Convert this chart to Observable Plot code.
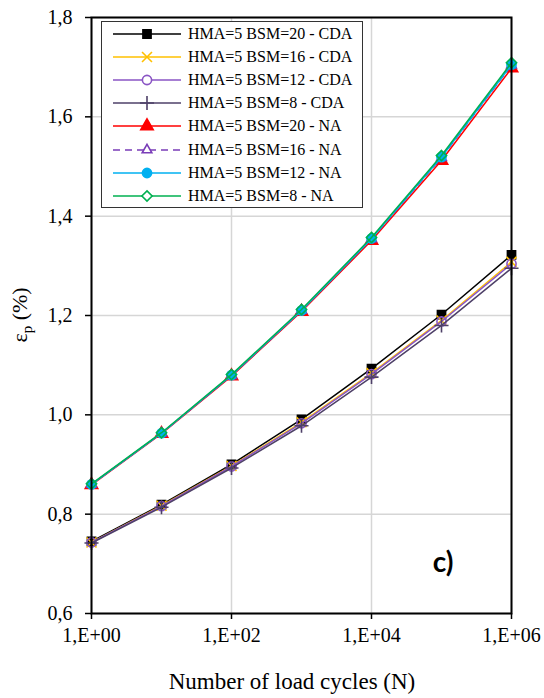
<!DOCTYPE html>
<html><head><meta charset="utf-8">
<script src="https://cdn.jsdelivr.net/npm/d3@7"></script>
<script src="https://cdn.jsdelivr.net/npm/@observablehq/plot@0.6"></script>
<style>
html,body{margin:0;padding:0;background:#fff;}
#wrap{position:relative;width:544px;height:698px;}
#legend{position:absolute;left:101px;top:21px;width:262px;height:187px;box-sizing:border-box;border:1px solid #333;background:#fff;font-family:"Liberation Serif",serif;font-size:16px;color:#000;}
.row{height:23.2px;display:flex;align-items:center;}
.row svg{display:block;flex:none;}
.row span{margin-left:6px;white-space:nowrap;}
</style></head><body>
<div id="wrap"><div id="chart"></div><div id="legend"></div></div>
<script>
// ---- data ----
const cycles = [1, 10, 100, 1000, 10000, 100000, 1000000];
const cdaBsm20 = [0.745, 0.819, 0.900, 0.991, 1.093, 1.202, 1.322];
const cdaBsm16 = [0.743, 0.817, 0.897, 0.985, 1.084, 1.190, 1.308];
const cdaBsm12 = [0.743, 0.816, 0.896, 0.983, 1.082, 1.188, 1.304];
const cdaBsm8  = [0.742, 0.814, 0.893, 0.978, 1.076, 1.180, 1.295];
const naBsm20  = [0.859, 0.962, 1.078, 1.208, 1.351, 1.512, 1.698];
const naBsm16  = [0.860, 0.963, 1.079, 1.210, 1.354, 1.518, 1.704];
const naBsm12  = [0.860, 0.963, 1.080, 1.210, 1.355, 1.519, 1.705];
const naBsm8   = [0.861, 0.964, 1.081, 1.212, 1.357, 1.522, 1.709];
const seriesLabels = [
  "HMA=5 BSM=20 - CDA", "HMA=5 BSM=16 - CDA", "HMA=5 BSM=12 - CDA", "HMA=5 BSM=8 - CDA",
  "HMA=5 BSM=20 - NA", "HMA=5 BSM=16 - NA", "HMA=5 BSM=12 - NA", "HMA=5 BSM=8 - NA"
];
const xTicks = [1, 100, 10000, 1000000];
const yTicks = [0.6, 0.8, 1.0, 1.2, 1.4, 1.6, 1.8];
const xLabel = "Number of load cycles (N)";
const panelLabel = "c)";

// ---- styles ----
const seriesValues = [cdaBsm20, cdaBsm16, cdaBsm12, cdaBsm8, naBsm20, naBsm16, naBsm12, naBsm8];
const styles = [
  {color: "#000000", symbol: "square", filled: true},
  {color: "#FFC000", symbol: "times", filled: false},
  {color: "#8A55C4", symbol: "circle", filled: false},
  {color: "#4E4068", symbol: "plus", filled: false},
  {color: "#FF0000", symbol: "triangle", filled: true},
  {color: "#7A3DB8", symbol: "triangle2", filled: false, dash: "7,5"},
  {color: "#00B0F0", symbol: "circle", filled: true},
  {color: "#00B050", symbol: "diamond2", filled: false}
];
const R = 4.6;

const rows = [];
seriesValues.forEach((vals, i) => vals.forEach((v, j) => rows.push({idx: i, series: seriesLabels[i], n: cycles[j], e: v})));

const marks = [
  Plot.gridY(yTicks, {stroke: "#d6d6d6", strokeOpacity: 1, strokeWidth: 1.5}),
  Plot.gridX(xTicks, {stroke: "#d6d6d6", strokeOpacity: 1, strokeWidth: 1.5})
];
styles.forEach((s, i) => {
  const d = rows.filter(r => r.idx === i);
  marks.push(Plot.line(d, {x: "n", y: "e", stroke: s.color, strokeWidth: 1.5, strokeDasharray: s.dash}));
  marks.push(Plot.dot(d, {x: "n", y: "e", symbol: s.symbol, r: R, stroke: s.color, fill: s.filled ? s.color : "none", strokeWidth: 1.6}));
});
marks.push(
  Plot.axisX({ticks: xTicks, tickFormat: d => "1,E+" + String(Math.round(Math.log10(d))).padStart(2, "0"), tickSize: 6, tickPadding: 8, strokeWidth: 1.5, label: null}),
  Plot.axisY({ticks: yTicks, tickFormat: d => d.toFixed(1).replace(".", ","), tickSize: 6, tickPadding: 13, strokeWidth: 1.5, label: null}),
  Plot.frame({stroke: "black", strokeWidth: 2}),
  Plot.text([panelLabel], {frameAnchor: "bottom-right", dx: -58, dy: -50, lineAnchor: "middle", textAnchor: "end", fontFamily: "Lato", fontWeight: "bold", fontSize: 28, fill: "black"})
);

const plot = Plot.plot({
  width: 544, height: 698,
  marginLeft: 91, marginRight: 33, marginTop: 17, marginBottom: 85,
  x: {type: "log", domain: [1, 1000000]},
  y: {domain: [0.6, 1.8]},
  style: {fontFamily: "Liberation Serif", fontSize: "20px", color: "black", background: "white"},
  marks
});
document.getElementById("chart").appendChild(plot);

const svg = d3.select(plot);
svg.append("text").attr("x", 292).attr("y", 689).attr("text-anchor", "middle")
  .attr("font-family", "Liberation Serif").attr("font-size", 23).attr("fill", "black").text(xLabel);
const yl = svg.append("text").attr("transform", "translate(27,315) rotate(-90)").attr("text-anchor", "middle")
  .attr("font-family", "Liberation Serif").attr("font-size", 22).attr("fill", "black");
yl.append("tspan").text("ε");
yl.append("tspan").attr("dy", 5).attr("font-size", 15).text("p");
yl.append("tspan").attr("dy", -5).text(" (%)");

// ---- legend ----
const symMap = {square: d3.symbolSquare, times: d3.symbolTimes, circle: d3.symbolCircle, plus: d3.symbolPlus,
  triangle: d3.symbolTriangle, triangle2: d3.symbolTriangle2, diamond2: d3.symbolDiamond2};
const leg = d3.select("#legend");
styles.forEach((s, i) => {
  const row = leg.append("div").attr("class", "row");
  const sv = row.append("svg").attr("width", 80).attr("height", 20);
  sv.append("line").attr("x1", 11).attr("x2", 79).attr("y1", 10).attr("y2", 10)
    .attr("stroke", s.color).attr("stroke-width", 1.5).attr("stroke-dasharray", s.dash || null);
  sv.append("path").attr("transform", "translate(45,10)")
    .attr("d", d3.symbol(symMap[s.symbol], R * R * Math.PI)())
    .attr("fill", s.filled ? s.color : "white").attr("stroke", s.color).attr("stroke-width", 1.6);
  row.append("span").text(seriesLabels[i]);
});
</script>
</body></html>
